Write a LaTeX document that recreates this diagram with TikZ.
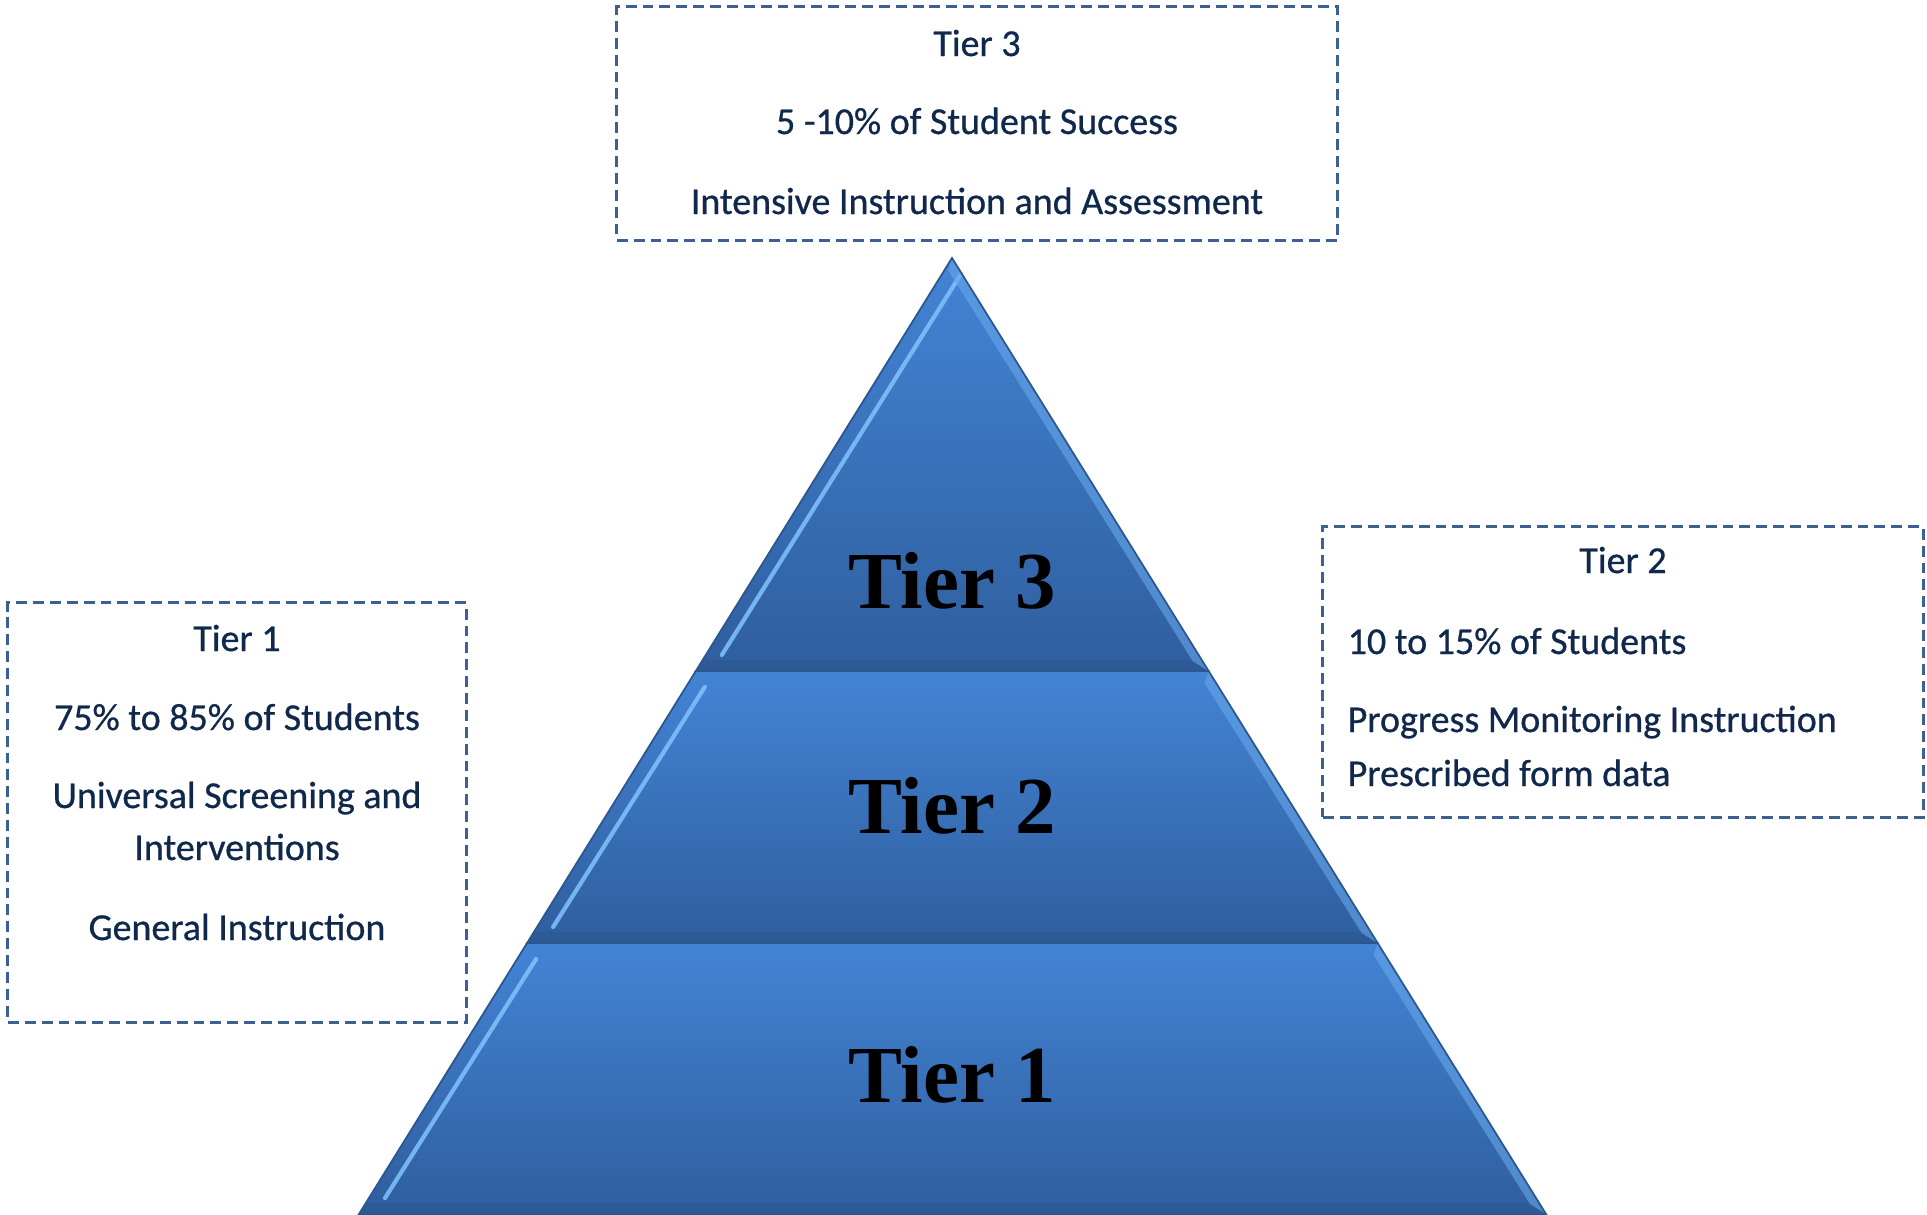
\documentclass[tikz,border=0pt]{standalone}
\usepackage{fontspec}
\setmainfont{Carlito}
\newfontfamily\infofont[FakeBold=0.7]{Carlito}
\newfontfamily\tierfont{Liberation Serif}
\usetikzlibrary{calc}

\definecolor{tierLight}{RGB}{67,132,213}
\definecolor{tierDark}{RGB}{47,94,158}
\definecolor{tierEdge}{RGB}{44,86,142}
\definecolor{tierGlow}{RGB}{125,190,250}
\definecolor{boxLine}{RGB}{59,96,145}
\definecolor{infoText}{RGB}{16,40,76}

\tikzset{
  tierfill/.style={top color=tierLight, bottom color=tierDark},
  tierlabel/.style={font=\tierfont\bfseries\fontsize{23}{27}\selectfont, text=black, inner sep=0pt, anchor=base},
  infobox/.style={draw=boxLine, line width=0.85pt, dash pattern=on 3.1pt off 1.7pt, inner sep=0pt},
  infotext/.style={font=\infofont\fontsize{10.8}{13}\selectfont, text=infoText, inner sep=0pt, anchor=base}
}

\begin{document}
\begin{tikzpicture}[x=0.01cm, y=-0.01cm]
  \useasboundingbox (0,0) rectangle (1927,1215);

  % Pyramid corners
  \coordinate (apex) at (952,258);
  \coordinate (bl) at (359,1214);
  \coordinate (br) at (1546,1214);
  \coordinate (l3) at ($(apex)!0.432!(bl)$);
  \coordinate (r3) at ($(apex)!0.432!(br)$);
  \coordinate (l2) at ($(apex)!0.7165!(bl)$);
  \coordinate (r2) at ($(apex)!0.7165!(br)$);

  % Segments: bottom left / bottom right / top left / top right
  \foreach \lo/\ro/\lu/\ru in {l3/r3/apex/apex, l2/r2/l3/r3, bl/br/l2/r2} {
    \shade[tierfill] (\lu) -- (\ru) -- (\ro) -- (\lo) -- cycle;
    % darker bottom bevel
    \fill[tierEdge, opacity=0.45] (\lo) -- (\ro) -- ($(\ro)+(-7,-11)$) -- ($(\lo)+(7,-11)$) -- cycle;
    % light inner edges
    \draw[tierGlow, line width=1.2pt, line cap=round, opacity=0.9] ($(\lo)+(26,-16)$) -- ($(\lu)+(9,16)$);
    \fill[tierGlow!60!tierLight, opacity=0.6] (\ro) -- (\ru) -- ($(\ru)+(-4,12)$) -- ($(\ro)+(-16,-10)$) -- cycle;
    % outer outline
    \draw[tierEdge, line width=0.5pt] (\lu) -- (\ru) -- (\ro) -- (\lo) -- cycle;
  }

  % Tier names on the pyramid
  \node[tierlabel] (tier3) at (952,608) {Tier 3};
  \node[tierlabel] (tier2) at (952,833) {Tier 2};
  \node[tierlabel] (tier1) at (952,1102) {Tier 1};

  % Tier 3 box (top)
  \node[infobox, minimum width=7.2cm, minimum height=2.33cm] (box3) at (977,123.5) {};
  \node[infotext] (box3title) at (977,56) {Tier 3};
  \node[infotext] (box3share) at (977,134) {5 -10\% of Student Success};
  \node[infotext] (box3focus) at (977,214) {Intensive Instruction and Assessment};

  % Tier 1 box (left)
  \node[infobox, minimum width=4.58cm, minimum height=4.19cm] (box1) at (237,812.5) {};
  \node[infotext] (box1title) at (237,651) {Tier 1};
  \node[infotext] (box1share) at (237,730) {75\% to 85\% of Students};
  \node[infotext] (box1focus) at (237,808) {Universal Screening and};
  \node[infotext] (box1focusb) at (237,860) {Interventions};
  \node[infotext] (box1instr) at (237,940) {General Instruction};

  % Tier 2 box (right)
  \node[infobox, minimum width=6.0cm, minimum height=2.9cm] (box2) at (1623,672) {};
  \node[infotext] (box2title) at (1623,573) {Tier 2};
  \node[infotext, anchor=base west] (box2share) at (1347,654) {10 to 15\% of Students};
  \node[infotext, anchor=base west] (box2focus) at (1347,732) {Progress Monitoring Instruction};
  \node[infotext, anchor=base west] (box2data) at (1347,786) {Prescribed form data};
\end{tikzpicture}
\end{document}
